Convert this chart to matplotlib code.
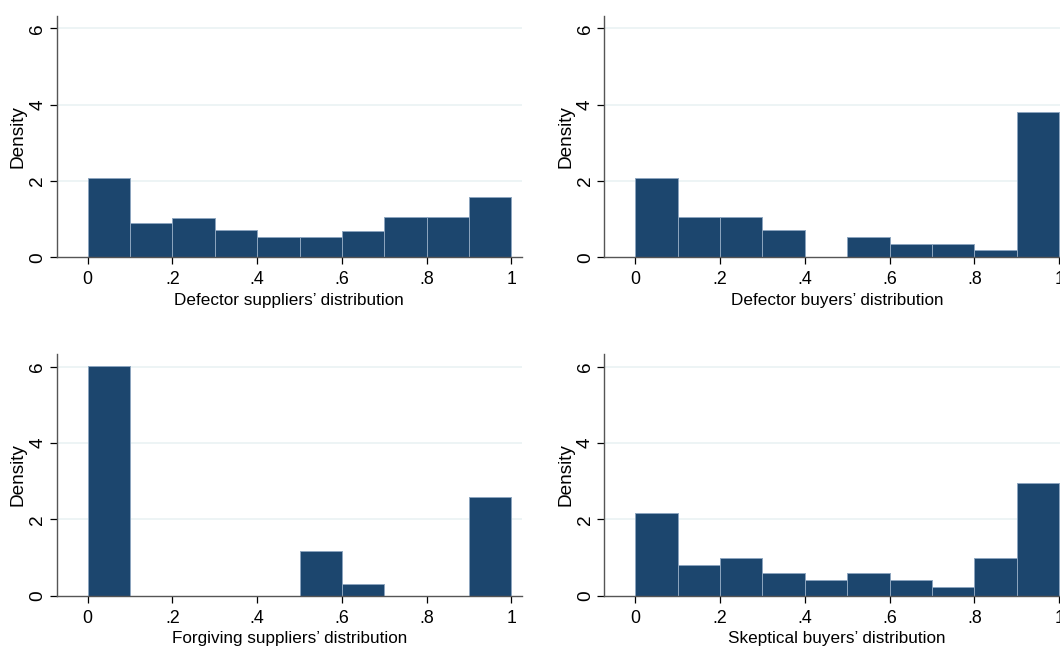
import numpy as np
import matplotlib
matplotlib.use("Agg")
import matplotlib.pyplot as plt

plt.rcParams['font.family'] = ['Liberation Sans', 'DejaVu Sans']

# bin edges shared by all four histograms
bin_edges = [0.0, 0.1, 0.2, 0.3, 0.4, 0.5, 0.6, 0.7, 0.8, 0.9, 1.0]

# densities
defector_suppliers = [2.09, 0.886, 1.04, 0.71, 0.535, 0.535, 0.70, 1.05, 1.05, 1.57]
defector_buyers = [2.09, 1.06, 1.06, 0.72, 0.0, 0.535, 0.36, 0.36, 0.19, 3.82]
forgiving_suppliers = [6.02, 0.0, 0.0, 0.0, 0.0, 1.17, 0.30, 0.0, 0.0, 2.60]
skeptical_buyers = [2.18, 0.81, 1.0, 0.605, 0.41, 0.605, 0.41, 0.22, 1.0, 2.96]

panel_labels = ["Defector suppliers\u2019 distribution",
                "Defector buyers\u2019 distribution",
                "Forgiving suppliers\u2019 distribution",
                "Skeptical buyers\u2019 distribution"]
panel_data = [defector_suppliers, defector_buyers, forgiving_suppliers, skeptical_buyers]

x_ticks = [0, 0.2, 0.4, 0.6, 0.8, 1.0]
x_ticklabels = ["0", ".2", ".4", ".6", ".8", "1"]
y_ticks = [0, 2, 4, 6]

BAR = "#1c466e"
EDGE = "#8ca5bf"
GRID = "#eaf2f3"
SPINE = "#555555"

W, H = 1060, 651
fig = plt.figure(figsize=(W / 100, H / 100), dpi=100)

# axes boxes in pixels: left, top, bottom
boxes = [(56.7, 16, 257.3), (604.3, 16, 257.3), (56.7, 354, 595.7), (604.3, 354, 595.7)]
ax_w = 465
px_per_unit = 38.15

for (left, top, bottom), vals, label in zip(boxes, panel_data, panel_labels):
    ax = fig.add_axes([left / W, 1 - bottom / H, ax_w / W, (bottom - top) / H])
    edges = np.array(bin_edges)
    ax.bar(edges[:-1], vals, width=np.diff(edges), align='edge',
           color=BAR, edgecolor=EDGE, linewidth=0.7, zorder=2)
    ax.set_xlim(-0.0731, 1.0241)
    ax.set_ylim(0, (bottom - top) / px_per_unit)
    for y in y_ticks[1:]:
        ax.axhline(y, color=GRID, lw=1.2, zorder=1)
    ax.set_xticks(x_ticks)
    ax.set_xticklabels(x_ticklabels, fontsize=12.8)
    ax.set_yticks(y_ticks)
    ax.set_yticklabels([str(v) for v in y_ticks], rotation=90, va='center',
                       fontsize=13.7)
    ax.tick_params(axis='both', colors='black', length=5, width=0.9,
                   direction='out')
    ax.tick_params(axis='x', pad=5)
    ax.tick_params(axis='y', pad=2.5)
    for side in ['top', 'right']:
        ax.spines[side].set_visible(False)
    for side in ['left', 'bottom']:
        ax.spines[side].set_color(SPINE)
        ax.spines[side].set_linewidth(1.0)
    ax.set_xlabel(label, fontsize=12.3, labelpad=3.5)
    ax.text(-0.0825, 0.5, "Density", transform=ax.transAxes, rotation=90,
            ha='center', va='center', fontsize=13.7)

plt.savefig("out.png", dpi=100, facecolor='white')
